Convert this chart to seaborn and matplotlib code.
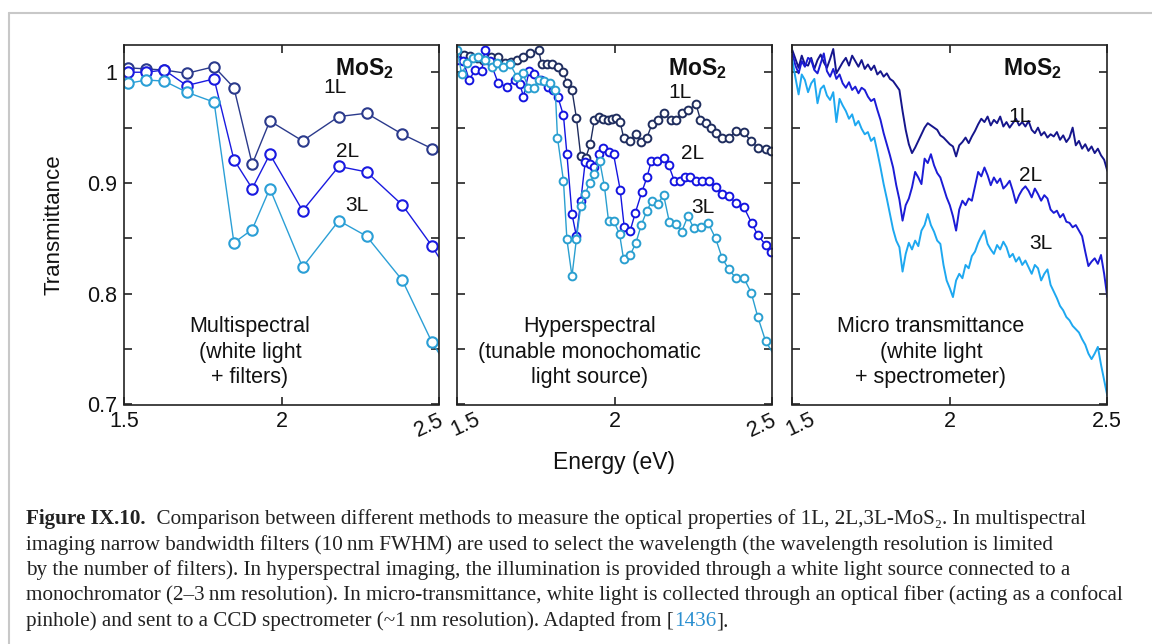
import numpy as np
import matplotlib
matplotlib.use("Agg")
import matplotlib.pyplot as plt
import seaborn as sns
from matplotlib.lines import Line2D

# ---------------- data ----------------
# Multispectral (filters)
multi_E = [1.514, 1.570, 1.628, 1.699, 1.786, 1.849, 1.907, 1.963, 2.067, 2.182, 2.270, 2.384, 2.478, 2.570]
multi_1L = [1.004, 1.003, 1.002, 0.999, 1.005, 0.986, 0.917, 0.956, 0.938, 0.960, 0.963, 0.944, 0.931, 0.918]
multi_2L = [1.000, 1.000, 1.002, 0.988, 0.994, 0.921, 0.895, 0.926, 0.875, 0.915, 0.910, 0.880, 0.843, 0.800]
multi_3L = [0.990, 0.993, 0.992, 0.982, 0.973, 0.846, 0.858, 0.895, 0.824, 0.866, 0.852, 0.812, 0.756, 0.715]

# Hyperspectral (monochromator)
hyper_E_1L = [1.521, 1.540, 1.562, 1.583, 1.607, 1.630, 1.652, 1.671, 1.689, 1.708,
              1.731, 1.758, 1.768, 1.784, 1.800, 1.819, 1.837, 1.848, 1.864, 1.878,
              1.892, 1.908, 1.922, 1.935, 1.949, 1.962, 1.977, 1.991, 2.005, 2.017,
              2.028, 2.049, 2.067, 2.084, 2.102, 2.118, 2.136, 2.157, 2.177, 2.195,
              2.212, 2.233, 2.258, 2.272, 2.288, 2.304, 2.322, 2.341, 2.364, 2.385,
              2.410, 2.431, 2.454, 2.479, 2.497]
hyper_1L = [1.016, 1.015, 1.013, 1.011, 1.014, 1.014, 1.008, 1.009, 1.011, 1.014,
            1.017, 1.020, 1.007, 1.007, 1.007, 1.005, 1.000, 0.990, 0.984, 0.959,
            0.924, 0.923, 0.935, 0.957, 0.960, 0.958, 0.957, 0.958, 0.959, 0.955,
            0.941, 0.938, 0.944, 0.937, 0.941, 0.953, 0.957, 0.963, 0.957, 0.957,
            0.963, 0.966, 0.971, 0.957, 0.954, 0.950, 0.945, 0.941, 0.941, 0.947,
            0.946, 0.938, 0.932, 0.931, 0.929]
hyper_E_2L = [1.500, 1.519, 1.538, 1.556, 1.577, 1.588, 1.604, 1.630, 1.657, 1.683,
              1.699, 1.710, 1.728, 1.745, 1.766, 1.787, 1.803, 1.819, 1.837, 1.848,
              1.864, 1.878, 1.892, 1.906, 1.920, 1.935, 1.949, 1.964, 1.980, 1.996,
              2.017, 2.030, 2.049, 2.065, 2.086, 2.102, 2.116, 2.134, 2.155, 2.171,
              2.189, 2.206, 2.224, 2.240, 2.258, 2.277, 2.298, 2.320, 2.341, 2.362,
              2.385, 2.410, 2.434, 2.454, 2.479, 2.497]
hyper_2L = [1.011, 1.010, 0.993, 1.002, 1.001, 1.020, 1.010, 0.990, 0.987, 0.993,
            0.989, 0.978, 1.001, 0.998, 0.993, 0.987, 0.984, 0.978, 0.961, 0.926,
            0.872, 0.852, 0.884, 0.919, 0.917, 0.914, 0.926, 0.932, 0.928, 0.926,
            0.894, 0.860, 0.857, 0.873, 0.892, 0.905, 0.920, 0.920, 0.923, 0.916,
            0.902, 0.902, 0.905, 0.905, 0.902, 0.902, 0.902, 0.896, 0.890, 0.888,
            0.882, 0.878, 0.864, 0.853, 0.844, 0.838]
hyper_E_3L = [1.500, 1.514, 1.530, 1.549, 1.567, 1.588, 1.609, 1.625, 1.646, 1.668,
              1.689, 1.708, 1.726, 1.742, 1.758, 1.774, 1.793, 1.811, 1.818, 1.837,
              1.848, 1.864, 1.878, 1.892, 1.906, 1.920, 1.935, 1.952, 1.967, 1.980,
              1.996, 2.015, 2.028, 2.049, 2.067, 2.084, 2.102, 2.118, 2.136, 2.155,
              2.173, 2.195, 2.212, 2.232, 2.251, 2.274, 2.296, 2.320, 2.341, 2.362,
              2.385, 2.410, 2.433, 2.454, 2.479, 2.520]
hyper_3L = [1.020, 0.998, 1.008, 1.013, 1.014, 1.011, 1.005, 1.008, 1.005, 1.007,
            0.996, 0.999, 0.986, 0.986, 0.993, 0.992, 0.990, 0.984, 0.941, 0.902,
            0.849, 0.816, 0.849, 0.879, 0.890, 0.900, 0.908, 0.920, 0.897, 0.866,
            0.866, 0.854, 0.831, 0.835, 0.846, 0.862, 0.875, 0.884, 0.881, 0.889,
            0.865, 0.863, 0.856, 0.870, 0.859, 0.860, 0.864, 0.850, 0.832, 0.822,
            0.814, 0.814, 0.801, 0.779, 0.757, 0.738]

# Micro transmittance (spectrometer), sampled every 0.01 eV from 1.50 to 2.50
micro_E = np.linspace(1.50, 2.50, 101)
micro_1L = [1.020, 1.012, 1.004, 1.015, 1.007, 1.006, 1.013, 1.003, 1.011, 1.016,
            1.009, 1.004, 1.012, 1.021, 0.999, 1.004, 1.009, 1.013, 1.006, 1.015,
            1.010, 1.005, 1.011, 1.003, 1.007, 1.002, 1.006, 0.998, 1.001, 0.996,
            0.999, 0.994, 0.992, 0.988, 0.984, 0.965, 0.948, 0.935, 0.927, 0.932,
            0.938, 0.944, 0.950, 0.954, 0.952, 0.950, 0.948, 0.943, 0.941, 0.938,
            0.935, 0.933, 0.924, 0.934, 0.937, 0.941, 0.936, 0.942, 0.947, 0.953,
            0.958, 0.955, 0.960, 0.952, 0.957, 0.954, 0.960, 0.951, 0.955, 0.950,
            0.954, 0.958, 0.952, 0.955, 0.951, 0.956, 0.948, 0.945, 0.950, 0.943,
            0.946, 0.941, 0.944, 0.942, 0.946, 0.939, 0.943, 0.937, 0.941, 0.950,
            0.934, 0.938, 0.931, 0.935, 0.929, 0.933, 0.927, 0.931, 0.925, 0.921,
            0.911]
micro_2L = [1.017, 1.006, 0.999, 1.010, 1.005, 1.013, 1.011, 1.002, 0.999, 1.008,
            1.017, 1.001, 0.996, 1.003, 0.994, 0.998, 0.990, 0.986, 0.991, 0.984,
            0.987, 0.981, 0.986, 0.984, 0.978, 0.974, 0.976, 0.966, 0.957, 0.945,
            0.935, 0.925, 0.914, 0.898, 0.885, 0.866, 0.880, 0.886, 0.896, 0.910,
            0.905, 0.899, 0.922, 0.918, 0.926, 0.916, 0.909, 0.905, 0.896, 0.887,
            0.880, 0.870, 0.857, 0.876, 0.884, 0.880, 0.886, 0.884, 0.897, 0.910,
            0.906, 0.914, 0.907, 0.898, 0.905, 0.900, 0.904, 0.895, 0.898, 0.902,
            0.893, 0.882, 0.889, 0.894, 0.897, 0.893, 0.887, 0.895, 0.890, 0.884,
            0.889, 0.886, 0.876, 0.873, 0.875, 0.869, 0.872, 0.865, 0.864, 0.860,
            0.862, 0.857, 0.852, 0.838, 0.825, 0.829, 0.832, 0.827, 0.835, 0.818,
            0.797]
micro_3L = [1.011, 0.995, 0.980, 0.998, 0.993, 0.982, 0.990, 0.994, 0.972, 0.985,
            0.988, 0.979, 0.975, 0.982, 0.955, 0.976, 0.970, 0.965, 0.958, 0.962,
            0.952, 0.956, 0.949, 0.944, 0.946, 0.938, 0.941, 0.928, 0.914, 0.899,
            0.886, 0.872, 0.858, 0.848, 0.842, 0.820, 0.836, 0.846, 0.840, 0.848,
            0.843, 0.857, 0.862, 0.872, 0.862, 0.856, 0.848, 0.845, 0.826, 0.812,
            0.805, 0.797, 0.812, 0.818, 0.814, 0.826, 0.823, 0.834, 0.838, 0.846,
            0.852, 0.857, 0.845, 0.840, 0.836, 0.844, 0.840, 0.847, 0.842, 0.833,
            0.836, 0.829, 0.833, 0.826, 0.830, 0.824, 0.818, 0.826, 0.823, 0.812,
            0.818, 0.822, 0.808, 0.802, 0.796, 0.789, 0.785, 0.779, 0.776, 0.771,
            0.768, 0.765, 0.759, 0.754, 0.746, 0.741, 0.746, 0.752, 0.736, 0.722,
            0.708]

layer_labels = ["1L", "2L", "3L"]
method_texts = ["Multispectral\n(white light\n+ filters)",
                "Hyperspectral\n(tunable monochomatic\nlight source)",
                "Micro transmittance\n(white light\n+ spectrometer)"]
y_ticks = [0.7, 0.75, 0.8, 0.85, 0.9, 0.95, 1.0]
y_ticklabels = ["0.7", "", "0.8", "", "0.9", "", "1"]
x_ticks = [1.5, 2.0, 2.5]

caption_lines = [
    [("Figure IX.10.", "bold", "#222222"),
     ("  Comparison between different methods to measure the optical properties of 1L, 2L,3L-MoS\u2082. In multispectral", "normal", "#222222")],
    [("imaging narrow bandwidth filters (10\u2009nm FWHM) are used to select the wavelength (the wavelength resolution is limited", "normal", "#222222")],
    [("by the number of filters). In hyperspectral imaging, the illumination is provided through a white light source connected to a", "normal", "#222222")],
    [("monochromator (2\u20133\u2009nm resolution). In micro-transmittance, white light is collected through an optical fiber (acting as a confocal", "normal", "#222222")],
    [("pinhole) and sent to a CCD spectrometer (~1\u2009nm resolution). Adapted from [", "normal", "#222222"),
     ("1436", "normal", "#2a8fd0"), ("].", "normal", "#222222")],
]

# ---------------- style ----------------
sns.set_theme(style="ticks")
plt.rcParams["font.family"] = ["Liberation Sans", "DejaVu Sans"]
plt.rcParams["mathtext.fontset"] = "custom"
plt.rcParams["mathtext.rm"] = "Liberation Sans"
plt.rcParams["mathtext.bf"] = "Liberation Sans:bold"
plt.rcParams["mathtext.it"] = "Liberation Sans:italic"

W, H = 1152, 644
fig = plt.figure(figsize=(W / 100, H / 100), dpi=100)
fig.patch.set_facecolor("white")

# frame lines (page border)
fig.add_artist(Line2D([9 / W, 9 / W], [0, 1 - 13 / H], transform=fig.transFigure,
                      color="#c8c8c8", lw=1.5))
fig.add_artist(Line2D([9 / W, 1], [1 - 13 / H, 1 - 13 / H], transform=fig.transFigure,
                      color="#c8c8c8", lw=1.5))

ax_bottom = 1 - 404.5 / H
ax_h = (404.5 - 45) / H
lefts = [124 / W, 457.3 / W, 792.3 / W]
ax_w = 315 / W
axes = [fig.add_axes([l, ax_bottom, ax_w, ax_h]) for l in lefts]

cols_p1 = ["#2b3a8c", "#1a1ae0", "#2b9fd6"]
cols_p2 = ["#1f2d5e", "#1414e0", "#2a9fd0"]
cols_p3 = ["#16168c", "#1c1cd6", "#1ea8f0"]

# panel 1
ax = axes[0]
for yv, c in zip([multi_1L, multi_2L, multi_3L], cols_p1):
    sns.lineplot(x=multi_E, y=yv, ax=ax, color=c, linewidth=1.0, marker="o",
                 markersize=7.5, markerfacecolor="white", markeredgecolor=c,
                 markeredgewidth=1.5, estimator=None, sort=False)

# panel 2
ax = axes[1]
for xv, yv, c in zip([hyper_E_1L, hyper_E_2L, hyper_E_3L],
                     [hyper_1L, hyper_2L, hyper_3L], cols_p2):
    sns.lineplot(x=xv, y=yv, ax=ax, color=c, linewidth=1.0, marker="o",
                 markersize=5.6, markerfacecolor="white", markeredgecolor=c,
                 markeredgewidth=1.4, estimator=None, sort=False)

# panel 3
ax = axes[2]
for yv, c in zip([micro_1L, micro_2L, micro_3L], cols_p3):
    sns.lineplot(x=micro_E, y=yv, ax=ax, color=c, linewidth=1.4,
                 estimator=None, sort=False)

label_pos = [
    [(2.169, 0.986), (2.21, 0.928), (2.24, 0.880)],
    [(2.208, 0.982), (2.246, 0.927), (2.281, 0.878)],
    [(2.224, 0.960), (2.256, 0.907), (2.288, 0.845)],
]

TICK_FS = 15.5
for k, ax in enumerate(axes):
    ax.set_xlim(1.5, 2.5)
    ax.set_ylim(0.7, 1.0246)
    ax.set_xticks(x_ticks)
    ax.set_yticks(y_ticks)
    ax.tick_params(direction="in", length=6, width=1.1, top=True, right=True,
                   labelsize=TICK_FS, pad=5, colors="#111111")
    for s in ax.spines.values():
        s.set_linewidth(1.2)
        s.set_color("#222222")
    ax.set_xlabel("")
    ax.set_ylabel("")
    if k == 0:
        ax.set_yticklabels(y_ticklabels)
    else:
        ax.set_yticklabels([])
    labs = ["1.5" if k == 0 else "", "2", "2.5" if k == 2 else ""]
    ax.set_xticklabels(labs)
    if k < 2:
        ax.annotate("2.5", xy=(2.5, 0), xycoords=("data", "axes fraction"),
                    xytext=(-10, -21), textcoords="offset pixels",
                    rotation=25, ha="center", va="center", fontsize=TICK_FS, color="#111111")
    if k > 0:
        ax.annotate("1.5", xy=(1.5, 0), xycoords=("data", "axes fraction"),
                    xytext=(8, -20), textcoords="offset pixels",
                    rotation=25, ha="center", va="center", fontsize=TICK_FS, color="#111111")
    ax.text(0.855, 0.935, r"MoS$_\mathbf{2}$", transform=ax.transAxes, ha="right",
            va="center", fontsize=16.5, fontweight="bold", color="#111111")
    for lab, (lx, ly) in zip(layer_labels, label_pos[k]):
        ax.text(lx, ly, lab, ha="center", va="center", fontsize=15, color="#111111")
    ax.text([0.40, 0.42, 0.44][k], 0.145, method_texts[k], transform=ax.transAxes,
            ha="center", va="center", fontsize=15.5, linespacing=1.28, color="#111111")

axes[0].set_ylabel("Transmittance", fontsize=16, color="#111111", labelpad=16)
fig.text(614 / W, 1 - 463 / H, "Energy (eV)", ha="center", va="center",
         fontsize=16.5, color="#111111")

# ---------------- caption ----------------
renderer = fig.canvas.get_renderer()
baselines = [524, 550, 575, 600, 626]
for line, yb in zip(caption_lines, baselines):
    xpx = 26
    for txt, wt, col in line:
        t = fig.text(xpx / W, 1 - yb / H, txt, ha="left", va="baseline",
                     fontsize=15.2, fontweight=wt, color=col,
                     family=["Liberation Serif", "DejaVu Serif"])
        bb = t.get_window_extent(renderer)
        xpx = bb.x1

fig.savefig("out.png", dpi=100, facecolor="white")
